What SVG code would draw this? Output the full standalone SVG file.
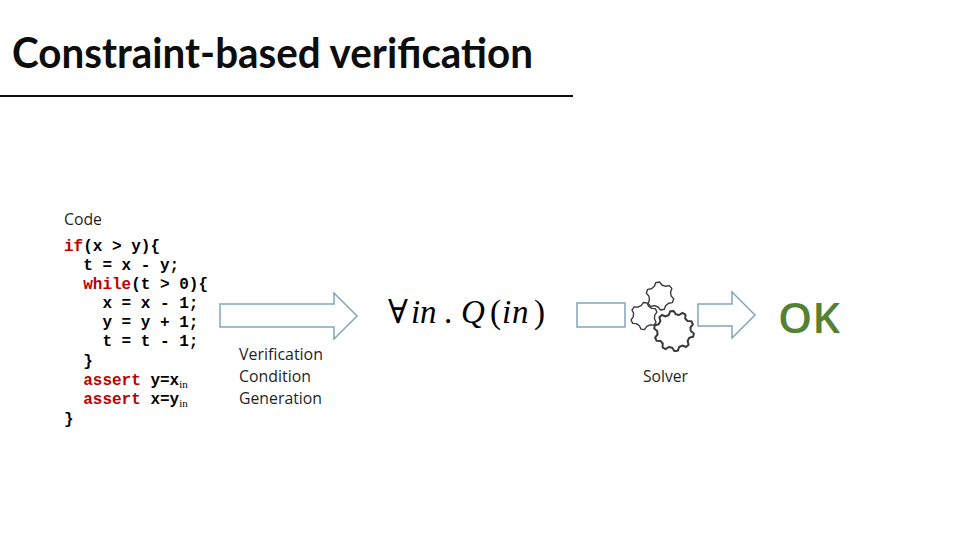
<svg xmlns="http://www.w3.org/2000/svg" width="960" height="540" viewBox="0 0 960 540">
<style>
.title{font-family:"Lato","Open Sans","Liberation Sans",sans-serif;font-size:42px;font-weight:bold;fill:#0d0d0d}
.lbl{font-family:"Open Sans","Noto Sans","Liberation Sans",sans-serif;font-size:15.5px;fill:#1f1f1f}
.code{font-family:"Liberation Mono","Courier New",monospace;font-size:16px;font-weight:bold;fill:#000}
.kw{fill:#C00000}
.sub{font-family:"Liberation Serif","DejaVu Serif",serif;font-size:11px;font-weight:normal}
.arrow{fill:#fff;stroke:#7EA6BC;stroke-width:1.5}
.gear{fill:#fff;stroke:#3a3a3a;stroke-width:1;stroke-linejoin:round;vector-effect:non-scaling-stroke}
.math{font-family:"Liberation Serif","DejaVu Serif",serif;font-size:33px;fill:#000}
.it{font-style:italic}
.ok{font-family:"Open Sans","Noto Sans","Liberation Sans",sans-serif;font-size:42px;font-weight:600;fill:#548235}
</style>
<defs>
<path id="gear6" d="M8,0 L9.78,2.08 L8.83,4.69 L6.13,5.14 L4,6.93 L3.09,9.51 L0.35,9.99 L-1.39,7.88 L-4,6.93 L-6.69,7.43 L-8.48,5.3 L-7.52,2.74 L-8,0 L-9.78,-2.08 L-8.83,-4.69 L-6.13,-5.14 L-4,-6.93 L-3.09,-9.51 L-0.35,-9.99 L1.39,-7.88 L4,-6.93 L6.69,-7.43 L8.48,-5.3 L7.52,-2.74 Z"/>
<path id="gear10" d="M8.4,0 L9.93,1.22 L9.56,2.92 L7.67,3.42 L6.8,4.94 L7.31,6.82 L6.02,7.99 L4.2,7.27 L2.6,7.99 L1.91,9.82 L0.17,10 L-0.88,8.35 L-2.6,7.99 L-4.23,9.06 L-5.74,8.19 L-5.62,6.24 L-6.8,4.94 L-8.75,4.85 L-9.46,3.26 L-8.22,1.75 L-8.4,0 L-9.93,-1.22 L-9.56,-2.92 L-7.67,-3.42 L-6.8,-4.94 L-7.31,-6.82 L-6.02,-7.99 L-4.2,-7.27 L-2.6,-7.99 L-1.91,-9.82 L-0.17,-10 L0.88,-8.35 L2.6,-7.99 L4.23,-9.06 L5.74,-8.19 L5.62,-6.24 L6.8,-4.94 L8.75,-4.85 L9.46,-3.26 L8.22,-1.75 Z"/>
</defs>
<rect width="960" height="540" fill="#fff"/>
<g id="title">
<text class="title" x="12" y="68" textLength="521" lengthAdjust="spacingAndGlyphs">Constraint-based verification</text>
<line x1="0" y1="96" x2="573" y2="96" stroke="#0d0d0d" stroke-width="2"/>
</g>
<g id="code">
<text class="lbl" x="64" y="225" textLength="38" lengthAdjust="spacingAndGlyphs">Code</text>
<text class="code" xml:space="preserve"><tspan x="64" y="251"><tspan class="kw">if</tspan>(x &gt; y){</tspan><tspan x="64" y="270">  t = x - y;</tspan><tspan x="64" y="289">  <tspan class="kw">while</tspan>(t &gt; 0){</tspan><tspan x="64" y="308">    x = x - 1;</tspan><tspan x="64" y="327">    y = y + 1;</tspan><tspan x="64" y="346">    t = t - 1;</tspan><tspan x="64" y="366">  }</tspan><tspan x="64" y="385">  <tspan class="kw">assert</tspan> y=x<tspan class="sub" dy="3">in</tspan></tspan><tspan x="64" y="404">  <tspan class="kw">assert</tspan> x=y<tspan class="sub" dy="3">in</tspan></tspan><tspan x="64" y="424">}</tspan></text>
</g>
<g id="connectors">
<path class="arrow" d="M220,304 L334,304 L334,293 L357,316 L334,339 L334,327 L220,327 Z"/>
<path class="arrow" d="M698,304 L732,304 L732,292 L755,315 L732,338 L732,326 L698,326 Z"/>
</g>
<g id="vcgen">
<text class="lbl" x="239" y="360" textLength="84" lengthAdjust="spacingAndGlyphs">Verification</text>
<text class="lbl" x="239" y="382" textLength="72" lengthAdjust="spacingAndGlyphs">Condition</text>
<text class="lbl" x="239" y="404" textLength="83" lengthAdjust="spacingAndGlyphs">Generation</text>
</g>
<g id="formula">
<text class="math" y="323"><tspan x="388">∀</tspan><tspan class="it" x="411">i</tspan><tspan class="it" x="420">n</tspan><tspan x="444">.</tspan><tspan class="it" x="461">Q</tspan><tspan x="490">(</tspan><tspan class="it" x="502">i</tspan><tspan class="it" x="512">n</tspan><tspan x="534">)</tspan></text>
</g>
<g id="solver">
<rect x="577" y="303" width="48" height="24" fill="#fff" stroke="#7EA6BC" stroke-width="1.5"/>
<use href="#gear6" class="gear" transform="translate(660,296) scale(1.4)"/>
<use href="#gear10" class="gear" transform="translate(674,331) scale(2)"/>
<use href="#gear6" class="gear" transform="translate(644,316) scale(1.35) rotate(15)"/>
<text class="lbl" x="643" y="382" textLength="45" lengthAdjust="spacingAndGlyphs">Solver</text>
</g>
<g id="ok">
<text class="ok" x="778" y="333" textLength="62" lengthAdjust="spacingAndGlyphs">OK</text>
</g>
</svg>
